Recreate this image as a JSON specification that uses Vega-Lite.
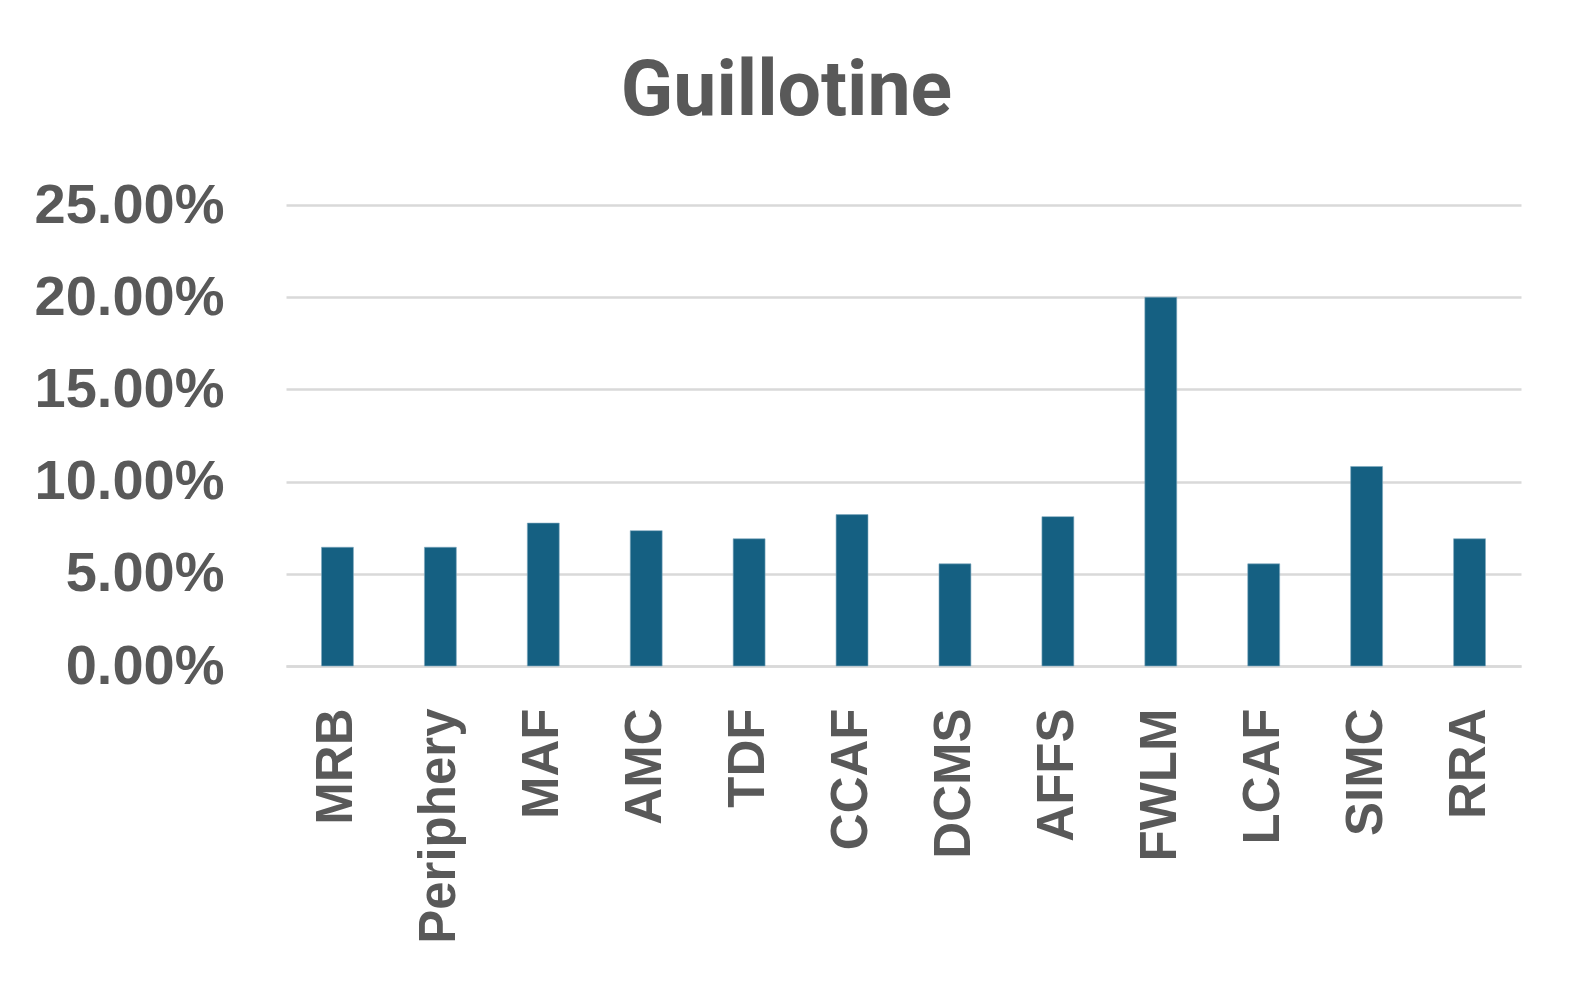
{
  "$schema": "https://vega.github.io/schema/vega-lite/v6.json",
  "autosize": "none",
  "width": 1235,
  "height": 461,
  "padding": {"left": 286, "top": 205, "right": 53, "bottom": 327},
  "background": "#ffffff",
  "title": {
    "text": "Guillotine",
    "font": "Roboto",
    "fontSize": 77,
    "fontWeight": "bold",
    "color": "#595959",
    "anchor": "middle",
    "offset": 46,
    "dx": -117
  },
  "data": {
    "values": [
      {"category": "MRB", "share": 0.0644},
      {"category": "Periphery", "share": 0.0644},
      {"category": "MAF", "share": 0.0775},
      {"category": "AMC", "share": 0.0734},
      {"category": "TDF", "share": 0.069},
      {"category": "CCAF", "share": 0.0821},
      {"category": "DCMS", "share": 0.0554},
      {"category": "AFFS", "share": 0.081},
      {"category": "FWLM", "share": 0.2},
      {"category": "LCAF", "share": 0.0554},
      {"category": "SIMC", "share": 0.1082},
      {"category": "RRA", "share": 0.069}
    ]
  },
  "mark": {"type": "bar", "color": "#156082", "stroke": "#7fa9c0", "strokeWidth": 0.6},
  "encoding": {
    "x": {
      "field": "category",
      "type": "nominal",
      "sort": null,
      "scale": {"paddingInner": 0.69, "paddingOuter": 0.345},
      "axis": {
        "title": null,
        "labelAngle": 270,
        "labelAlign": "right",
        "labelBaseline": "middle",
        "labelFont": "Liberation Sans",
        "labelFontSize": 51,
        "labelFontWeight": "bold",
        "labelColor": "#595959",
        "labelPadding": 42,
        "labelLimit": 0,
        "ticks": false,
        "domainColor": "#d9d9d9",
        "domainWidth": 2.5
      }
    },
    "y": {
      "field": "share",
      "type": "quantitative",
      "scale": {"domain": [0, 0.25], "nice": false},
      "axis": {
        "title": null,
        "values": [0, 0.05, 0.1, 0.15, 0.2, 0.25],
        "format": ".2%",
        "labelFont": "Liberation Sans",
        "labelFontSize": 56,
        "labelFontWeight": "bold",
        "labelColor": "#595959",
        "labelPadding": 62,
        "labelLimit": 0,
        "ticks": false,
        "domain": false,
        "grid": true,
        "gridColor": "#d9d9d9",
        "gridWidth": 2.5
      }
    }
  },
  "config": {"view": {"stroke": null}}
}
